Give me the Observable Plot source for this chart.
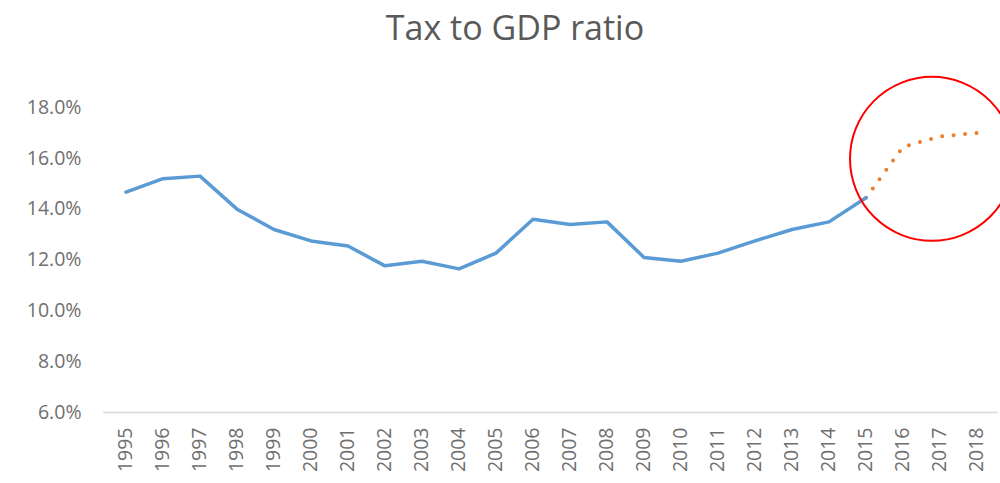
<!DOCTYPE html>
<html>
<head>
<meta charset="utf-8">
<script src="https://cdn.jsdelivr.net/npm/d3@7"></script>
<script src="https://cdn.jsdelivr.net/npm/@observablehq/plot@0.6"></script>
<style>
  html, body { margin: 0; padding: 0; background: #fff; }
  #wrap { width: 1000px; height: 483px; position: relative; overflow: hidden; }
  #title { position: absolute; left: 0; top: 6px; width: 1030px; text-align: center;
           font-family: "Open Sans", sans-serif; font-size: 34px; color: #595959; line-height: 42px; }
  #chart { position: absolute; left: 0; top: 60px; }
</style>
</head>
<body>
<div id="wrap">
  <div id="title">Tax to GDP ratio</div>
  <div id="chart"></div>
</div>
<script>
const years = ["1995","1996","1997","1998","1999","2000","2001","2002","2003","2004","2005","2006",
               "2007","2008","2009","2010","2011","2012","2013","2014","2015","2016","2017","2018"];
const actualYears = years.slice(0, 21);
const actualValues = [14.67, 15.2, 15.3, 14.0, 13.2, 12.75, 12.55, 11.77, 11.95, 11.65, 12.27, 13.6,
                      13.4, 13.5, 12.1, 11.95, 12.27, 12.75, 13.2, 13.5, 14.45];
const forecastYears = ["2015","2016","2017","2018"];
const forecastValues = [14.45, 16.45, 16.86, 17.0];
const yTicks = [6, 8, 10, 12, 14, 16, 18];
const highlight = [{year: "2017", value: 16.0}];

const actual = actualYears.map((y, i) => ({year: y, value: actualValues[i]}));
const forecast = forecastYears.map((y, i) => ({year: y, value: forecastValues[i]}));

const chart = Plot.plot({
  width: 1000,
  height: 423,
  marginLeft: 103,
  marginRight: 2,
  marginTop: 47,
  marginBottom: 71,
  style: {fontFamily: "Open Sans, sans-serif", fontSize: "19.5px", color: "#6f6f6f", overflow: "visible"},
  x: {type: "band", domain: years, padding: 0, label: null},
  y: {domain: [6, 18], label: null},
  marks: [
    Plot.axisX({tickSize: 0, tickPadding: 15, tickRotate: -90, fill: "#6f6f6f"}),
    Plot.axisY({ticks: yTicks, tickSize: 0, tickPadding: 22, tickFormat: d => d.toFixed(1) + "%", fill: "#6f6f6f"}),
    Plot.ruleY([6], {stroke: "#d9d9d9", strokeWidth: 1.5}),
    Plot.line(forecast, {x: "year", y: "value", stroke: "#ED7D31", strokeWidth: 4,
      strokeDasharray: "0 11.5", strokeLinecap: "round", strokeLinejoin: "round"}),
    Plot.line(actual, {x: "year", y: "value", stroke: "#5B9BD5", strokeWidth: 3.5,
      strokeLinecap: "round", strokeLinejoin: "round"}),
    Plot.dot(highlight, {x: "year", y: "value", dx: -8, dy: 0.5, r: 82, stroke: "#FF0000", strokeWidth: 2, fill: "none"})
  ]
});
document.getElementById("chart").appendChild(chart);
</script>
</body>
</html>
